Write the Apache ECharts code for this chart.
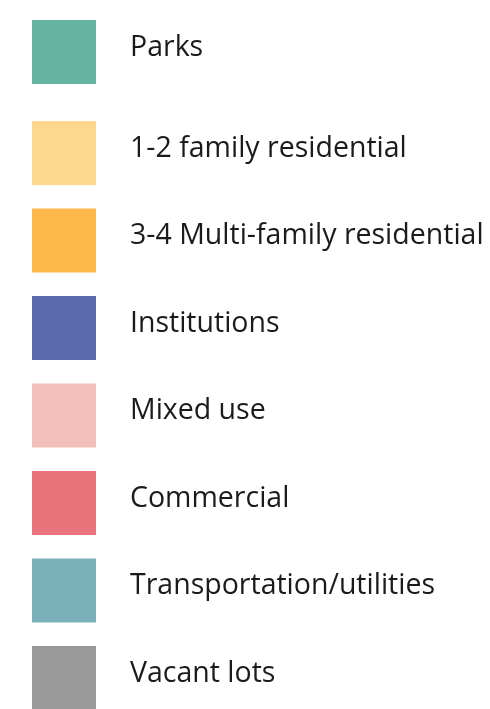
<!DOCTYPE html>
<html><head><meta charset="utf-8">
<script src="https://cdn.jsdelivr.net/npm/echarts@6/dist/echarts.min.js"></script>
<style>html,body{margin:0;padding:0;background:#fff;}#c{width:490px;height:709px;}</style>
</head><body><div id="c"></div>
<script>
const categories = ["Parks","1-2 family residential","3-4 Multi-family residential","Institutions","Mixed use","Commercial","Transportation/utilities","Vacant lots"];
const colors = ["#66b5a1","#fed78f","#fdb84a","#5a69ac","#f3bfba","#e9737a","#7bb1b8","#9a9a9a"];

const chart = echarts.init(document.getElementById('c'), null, {renderer:'canvas'});
const series = categories.map((n,i)=>({type:'bar', name:n, data:[], itemStyle:{color:colors[i]}}));
const textStyle = {fontFamily:'Open Sans', fontSize:28.5, color:'#1c1a1b', lineHeight:28, rich:{}, padding:[0,0,9,29]};
chart.setOption({
  animation:false,
  grid:{show:false, left:0, top:0, width:1, height:1},
  xAxis:{type:'category', show:false},
  yAxis:{type:'value', show:false},
  legend:[
    {data:[categories[0]], orient:'vertical', left:32, top:20, padding:0, icon:'rect', itemWidth:64, itemHeight:64, selectedMode:false, textStyle},
    {data:categories.slice(1), orient:'vertical', left:32, top:121, height:640, padding:0, icon:'rect', itemWidth:64, itemHeight:64, itemGap:23.5, selectedMode:false, textStyle}
  ],
  series
});
</script></body></html>
